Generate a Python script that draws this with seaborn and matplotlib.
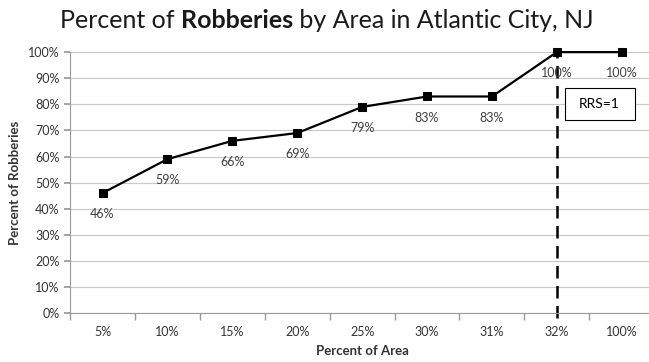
import matplotlib
matplotlib.use("Agg")
import matplotlib.pyplot as plt
import matplotlib.patches as mpatches
import seaborn as sns
import pandas as pd
from matplotlib.ticker import FixedLocator, PercentFormatter

categories = ["5%", "10%", "15%", "20%", "25%", "30%", "31%", "32%", "100%"]
robbery_pct = [46, 59, 66, 69, 79, 83, 83, 100, 100]
point_labels = ["46%", "59%", "66%", "69%", "79%", "83%", "83%", "100%", "100%"]
rrs_category = "32%"

sns.set_theme(style="white")
plt.rcParams["font.family"] = ["Lato", "DejaVu Sans"]

df = pd.DataFrame({"pos": range(len(categories)), "pct": robbery_pct})

fig = plt.figure(figsize=(6.49, 3.62), dpi=100)
ax = fig.add_axes([0.108, 0.135, 0.900, 0.721])

sns.lineplot(data=df, x="pos", y="pct", ax=ax, color="black", linewidth=1.6,
             marker="s", markersize=6, markeredgecolor="black", markerfacecolor="black",
             clip_on=False, zorder=3)

for i, (v, lab) in enumerate(zip(robbery_pct, point_labels)):
    ax.annotate(lab, (i, v), xytext=(0, -11), textcoords="offset points",
                ha="center", va="top", fontsize=9, color="#404040")

rx = categories.index(rrs_category)
ax.axvline(rx, ymin=-0.02, ymax=1, color="black", linewidth=1.8,
           linestyle=(0, (5, 3)), clip_on=False, zorder=1)

box = mpatches.Rectangle((rx + 0.12, 74), 1.08, 12.3, facecolor="white",
                         edgecolor="black", linewidth=0.8, zorder=4)
ax.add_patch(box)
ax.text(rx + 0.66, 80.2, "RRS=1", ha="center", va="center", fontsize=10,
        color="black", zorder=5)

ax.set_xlim(-0.5, len(categories) - 0.5)
ax.set_ylim(0, 100)
ax.set_xticks(range(len(categories)))
ax.set_xticklabels(categories)
ax.xaxis.set_minor_locator(FixedLocator([i + 0.5 for i in range(-1, len(categories))]))
ax.tick_params(axis="x", which="major", length=0, labelsize=9, colors="#333333", pad=9)
ax.tick_params(axis="x", which="minor", length=5, color="#999999", direction="out", bottom=True)
ax.set_yticks(range(0, 101, 10))
ax.yaxis.set_major_formatter(PercentFormatter(decimals=0))
ax.tick_params(axis="y", length=4, color="#999999", direction="out", left=True, labelsize=9, colors="#333333")
ax.grid(axis="y", color="#c8c8c8", linewidth=0.8)
ax.set_axisbelow(True)
for s in ["top", "right"]:
    ax.spines[s].set_visible(False)
for s in ["left", "bottom"]:
    ax.spines[s].set_color("#999999")
    ax.spines[s].set_linewidth(0.8)

ax.set_xlabel("Percent of Area", fontsize=9.5, fontweight="bold", color="#333333", labelpad=5)
ax.set_ylabel("Percent of Robberies", fontsize=9.5, fontweight="bold", color="#333333", labelpad=5)

# Title with bold word
parts = [("Percent of ", "normal"), ("Robberies", "bold"), (" by Area in Atlantic City, NJ", "normal")]
fig.canvas.draw()
r = fig.canvas.get_renderer()
texts = []
for t, w in parts:
    texts.append(fig.text(0, 0.943, t, fontsize=18, fontweight=w, color="#1a1a1a", va="center", ha="left"))
widths = [tx.get_window_extent(r).width for tx in texts]
total = sum(widths)
x = (327 - total / 2)
for tx, w in zip(texts, widths):
    tx.set_x(x / fig.bbox.width)
    x += w

fig.savefig("out.png", dpi=100)
